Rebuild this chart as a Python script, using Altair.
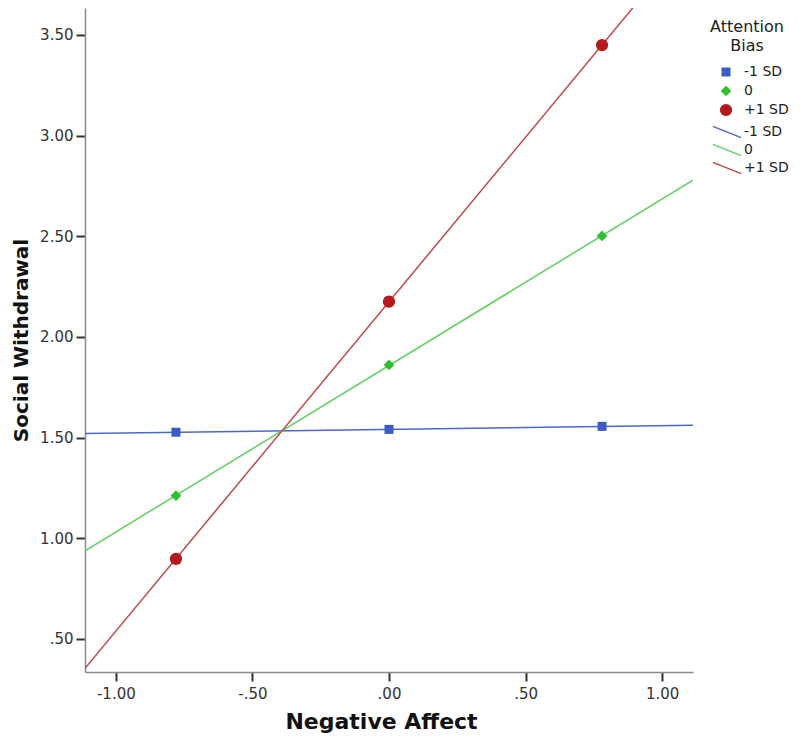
import altair as alt
import pandas as pd

groups = ["-1 SD", "0", "+1 SD"]
neg_affect = [-0.78, 0.0, 0.78]
withdrawal_low = [1.527, 1.541, 1.556]
withdrawal_mid = [1.212, 1.861, 2.502]
withdrawal_high = [0.898, 2.176, 3.450]

x_ticks = [-1.0, -0.5, 0.0, 0.5, 1.0]
y_ticks = [0.5, 1.0, 1.5, 2.0, 2.5, 3.0, 3.5]

point_colors = ["#3b5cc4", "#2fc030", "#b3191f"]
line_colors = ["#4a67cc", "#5fd05f", "#c2474a"]
shapes = ["square", "diamond", "circle"]
line_groups = [g + " " for g in groups]

rows = []
for g, vals in zip(groups, [withdrawal_low, withdrawal_mid, withdrawal_high]):
    for xv, yv in zip(neg_affect, vals):
        rows.append({"group": g, "x": xv, "y": yv})
df = pd.DataFrame(rows)

XDOM = [-1.113, 1.113]
YDOM = [0.336, 3.634]
FONT = "DejaVu Sans"

label_expr = ("(datum.value < 0 ? '-' : '') + (abs(datum.value) < 1 ? "
              "substring(format(abs(datum.value), '.2f'), 1) : format(abs(datum.value), '.2f'))")

common_axis = dict(grid=False, tickSize=9, tickWidth=2, tickColor="#333333",
                   domainColor="#8a8a8a", domainWidth=1.5, labelFontSize=15,
                   labelColor="#333333", titleFontWeight="bold",
                   titleColor="#111111", labelFont=FONT, titleFont=FONT)

x_enc = alt.X("x:Q", scale=alt.Scale(domain=XDOM, nice=False, zero=False),
              axis=alt.Axis(values=x_ticks, labelExpr=label_expr, title="Negative Affect",
                            labelPadding=5, titlePadding=10, titleFontSize=22,
                            titleX=296, titleAlign="center", **common_axis))
y_enc = alt.Y("y:Q", scale=alt.Scale(domain=YDOM, nice=False, zero=False),
              axis=alt.Axis(values=y_ticks, labelExpr=label_expr, title="Social Withdrawal",
                            labelPadding=3, titlePadding=8, titleFontSize=20,
                            **common_axis))

base = alt.Chart(df)

lines = base.transform_regression(
    "x", "y", groupby=["group"], extent=XDOM
).transform_calculate(
    lgroup="datum.group + ' '"
).mark_line(strokeWidth=1.5, clip=True).encode(
    x=x_enc,
    y=y_enc,
    stroke=alt.Stroke("lgroup:N", sort=line_groups,
                      scale=alt.Scale(domain=line_groups, range=line_colors),
                      legend=alt.Legend(title=None, orient="none", legendX=621, legendY=116,
                                        symbolType="M-2,-0.8L2,0.8", symbolSize=200,
                                        symbolStrokeWidth=1.5, labelFontSize=14,
                                        labelFont=FONT, labelColor="#222222",
                                        symbolOffset=13, labelOffset=9, rowPadding=0)),
)

points = base.mark_point(filled=True, opacity=1, clip=True).encode(
    x=x_enc,
    y=y_enc,
    color=alt.Color("group:N", sort=groups,
                    scale=alt.Scale(domain=groups, range=point_colors),
                    legend=alt.Legend(title=["Attention", "Bias"], orient="none",
                                      legendX=621, legendY=11, titleFontSize=16,
                                      titleFont=FONT, titleFontWeight="normal",
                                      titleColor="#222222", titleAlign="center",
                                      titleAnchor="middle", titleLineHeight=19,
                                      titlePadding=11,
                                      labelFontSize=14, labelFont=FONT,
                                      labelColor="#222222", labelOffset=11, rowPadding=5,
                                      symbolSize=110, symbolOffset=13)),
    shape=alt.Shape("group:N", sort=groups,
                    scale=alt.Scale(domain=groups, range=shapes)),
    size=alt.Size("group:N", sort=groups,
                  scale=alt.Scale(domain=groups, range=[81, 150, 150]), legend=None),
)

chart = alt.layer(lines, points).properties(
    width=608, height=664,
    autosize=alt.AutoSizeParams(type="none"),
    padding={"left": 77, "top": 0, "right": 99, "bottom": 65},
).configure_view(stroke=None)

chart.save("out.html", embed_options={"renderer": "svg", "actions": False})
